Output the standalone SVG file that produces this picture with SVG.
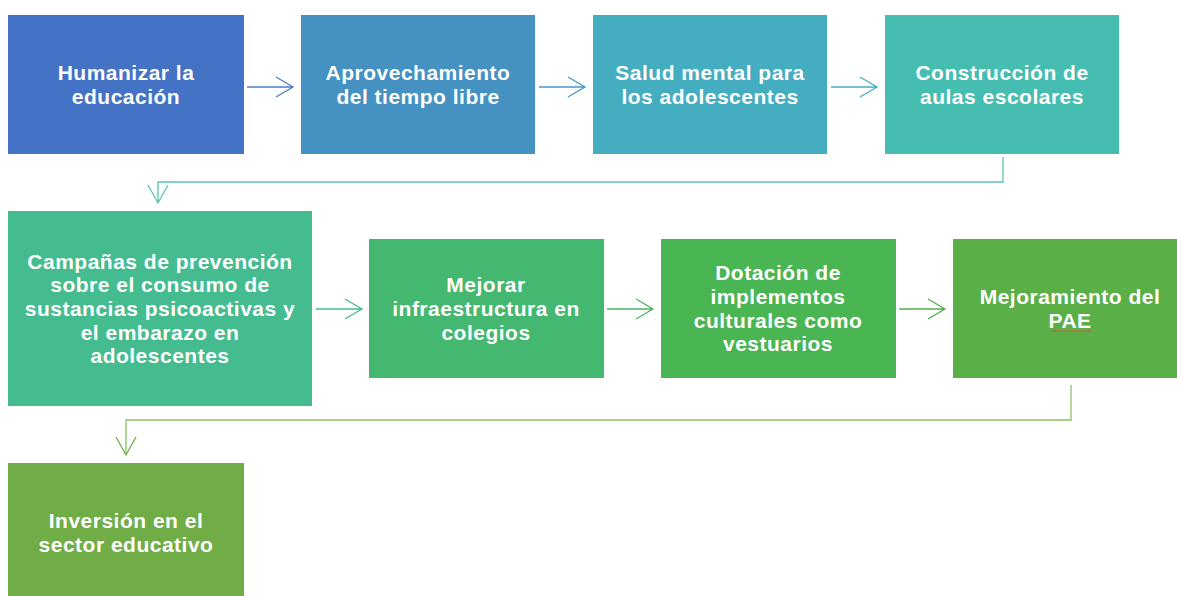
<svg xmlns="http://www.w3.org/2000/svg" width="1177" height="596" viewBox="0 0 1177 596">
<style>
text{font-family:"Liberation Sans",Arial,sans-serif;font-weight:bold;font-size:21px;letter-spacing:0.5px;fill:#fff;text-anchor:middle}
.c{fill:none;stroke-width:1.3}
</style>
<rect width="1177" height="596" fill="#fff"/>
<g id="connectors">
<path class="c" stroke="#4A7CC8" d="M247 87H292M276 77L293 87L276 97"/>
<path class="c" stroke="#4A97C5" d="M539 87H584M568 77L585 87L568 97"/>
<path class="c" stroke="#44B0C0" d="M831 87H876M860 77L877 87L860 97"/>
<path class="c" stroke="#5CC4B2" d="M1003 157V182H158V202M148 185L158 203L168 185"/>
<path class="c" stroke="#45BC8F" d="M316 309H361M345 299L362 309L345 319"/>
<path class="c" stroke="#4AB562" d="M607 309H652M636 299L653 309L636 319"/>
<path class="c" stroke="#52B04B" d="M899 309H944M928 299L945 309L928 319"/>
<path class="c" stroke="#8CC26A" d="M1071 385V420H126V454"/>
<path class="c" stroke="#70AD47" d="M116 437L126 455L136 437"/>
</g>
<g id="n1"><rect x="8" y="15" width="236" height="139" fill="#4472C4"/><text x="126" y="80">Humanizar la</text><text x="126" y="104">educación</text></g>
<g id="n2"><rect x="301" y="15" width="234" height="139" fill="#4591C2"/><text x="418" y="80">Aprovechamiento</text><text x="418" y="104">del tiempo libre</text></g>
<g id="n3"><rect x="593" y="15" width="234" height="139" fill="#44AEC0"/><text x="710" y="80">Salud mental para</text><text x="710" y="104">los adolescentes</text></g>
<g id="n4"><rect x="885" y="15" width="234" height="139" fill="#45BDB0"/><text x="1002" y="80">Construcción de</text><text x="1002" y="104">aulas escolares</text></g>
<g id="n5"><rect x="8" y="211" width="304" height="195" fill="#45BC8F"/><text x="160" y="269">Campañas de prevención</text><text x="160" y="292">sobre el consumo de</text><text x="160" y="316">sustancias psicoactivas y</text><text x="160" y="340">el embarazo en</text><text x="160" y="363">adolescentes</text></g>
<g id="n6"><rect x="369" y="239" width="235" height="139" fill="#44B771"/><text x="486" y="292">Mejorar</text><text x="486" y="316">infraestructura en</text><text x="486" y="340">colegios</text></g>
<g id="n7"><rect x="661" y="239" width="235" height="139" fill="#4AB553"/><text x="778" y="280">Dotación de</text><text x="778" y="304">implementos</text><text x="778" y="328">culturales como</text><text x="778" y="351">vestuarios</text></g>
<g id="n8"><rect x="953" y="239" width="235" height="139" fill="#5AB046"/><text x="1070" y="304">Mejoramiento del</text><text x="1070" y="328">PAE</text><line x1="1051" y1="331" x2="1091" y2="331" stroke="#D9534F" stroke-width="1"/></g>
<g id="n9"><rect x="8" y="463" width="236" height="140" fill="#70AD47"/><text x="126" y="528">Inversión en el</text><text x="126" y="552">sector educativo</text></g>
</svg>
